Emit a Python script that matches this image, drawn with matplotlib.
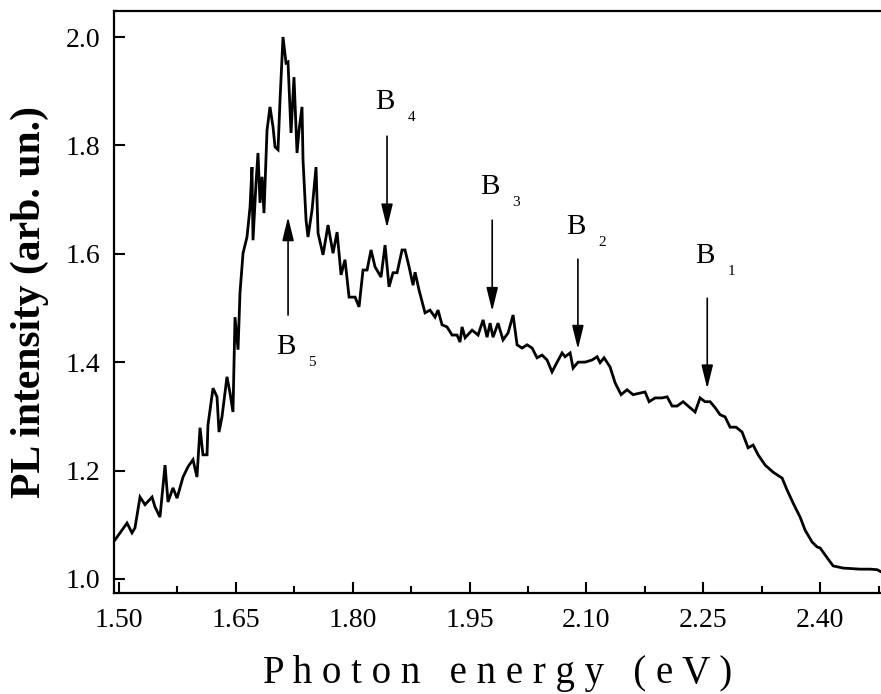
import matplotlib
matplotlib.use("Agg")
import matplotlib.pyplot as plt
from matplotlib.ticker import AutoMinorLocator, FormatStrFormatter

plt.rcParams["font.family"] = ["Liberation Serif", "DejaVu Serif"]

# PL spectrum (photon energy in eV, intensity in arb. units)
energy = [
    1.4949, 1.5103, 1.5167, 1.5205, 1.5270, 1.5334, 1.5424, 1.5462, 1.5526, 1.5591,
    1.5629, 1.5693, 1.5745, 1.5822, 1.5886, 1.5950, 1.6001, 1.6040, 1.6078, 1.6130,
    1.6142, 1.6207, 1.6258, 1.6284, 1.6322, 1.6386, 1.6425, 1.6463, 1.6489, 1.6528,
    1.6553, 1.6592, 1.6643, 1.6682, 1.6707, 1.6720, 1.6759, 1.6784, 1.6810, 1.6836,
    1.6861, 1.6900, 1.6938, 1.6977, 1.7003, 1.7041, 1.7067, 1.7105, 1.7144, 1.7169,
    1.7208, 1.7246, 1.7285, 1.7311, 1.7349, 1.7362, 1.7401, 1.7426, 1.7478, 1.7529,
    1.7555, 1.7619, 1.7683, 1.7747, 1.7799, 1.7850, 1.7901, 1.7953, 1.8030, 1.8081,
    1.8132, 1.8184, 1.8235, 1.8286, 1.8363, 1.8415, 1.8466, 1.8517, 1.8569, 1.8633,
    1.8671, 1.8723, 1.8774, 1.8800, 1.8851, 1.8928, 1.8992, 1.9056, 1.9095, 1.9146,
    1.9210, 1.9275, 1.9339, 1.9377, 1.9403, 1.9442, 1.9532, 1.9609, 1.9673, 1.9724,
    1.9763, 1.9801, 1.9865, 1.9929, 1.9994, 2.0058, 2.0109, 2.0173, 2.0238, 2.0302,
    2.0366, 2.0430, 2.0494, 2.0558, 2.0623, 2.0687, 2.0725, 2.0790, 2.0828, 2.0892,
    2.0982, 2.1072, 2.1136, 2.1175, 2.1226, 2.1303, 2.1367, 2.1444, 2.1521, 2.1598,
    2.1688, 2.1752, 2.1804, 2.1881, 2.1970, 2.2035, 2.2099, 2.2163, 2.2240, 2.2304,
    2.2394, 2.2458, 2.2522, 2.2587, 2.2651, 2.2715, 2.2779, 2.2843, 2.2920, 2.2997,
    2.3074, 2.3139, 2.3203, 2.3293, 2.3395, 2.3511, 2.3575, 2.3652, 2.3742, 2.3806,
    2.3896, 2.3960, 2.3999, 2.4089, 2.4166, 2.4294, 2.4512, 2.4641, 2.4731, 2.4782,
]
intensity = [
    1.072, 1.103, 1.085, 1.094, 1.151, 1.137, 1.151, 1.133, 1.114, 1.210,
    1.142, 1.168, 1.149, 1.188, 1.207, 1.220, 1.188, 1.279, 1.229, 1.229,
    1.284, 1.352, 1.336, 1.271, 1.299, 1.373, 1.343, 1.308, 1.483, 1.423,
    1.528, 1.601, 1.631, 1.686, 1.760, 1.625, 1.731, 1.786, 1.694, 1.742,
    1.675, 1.828, 1.871, 1.834, 1.797, 1.792, 1.884, 2.000, 1.952, 1.954,
    1.823, 1.926, 1.786, 1.828, 1.871, 1.773, 1.662, 1.631, 1.681, 1.760,
    1.638, 1.598, 1.653, 1.601, 1.640, 1.561, 1.589, 1.520, 1.520, 1.502,
    1.570, 1.570, 1.607, 1.576, 1.557, 1.616, 1.539, 1.565, 1.565, 1.607,
    1.607, 1.576, 1.542, 1.566, 1.533, 1.491, 1.496, 1.483, 1.496, 1.469,
    1.465, 1.450, 1.450, 1.437, 1.465, 1.445, 1.459, 1.450, 1.478, 1.446,
    1.472, 1.446, 1.472, 1.441, 1.454, 1.487, 1.432, 1.426, 1.432, 1.426,
    1.408, 1.413, 1.404, 1.382, 1.400, 1.417, 1.410, 1.417, 1.389, 1.400,
    1.400, 1.404, 1.410, 1.399, 1.408, 1.391, 1.362, 1.340, 1.349, 1.340,
    1.343, 1.345, 1.327, 1.334, 1.334, 1.336, 1.319, 1.319, 1.327, 1.319,
    1.308, 1.334, 1.327, 1.327, 1.316, 1.303, 1.299, 1.280, 1.280, 1.271,
    1.242, 1.247, 1.229, 1.210, 1.197, 1.186, 1.164, 1.140, 1.114, 1.090,
    1.068, 1.059, 1.057, 1.039, 1.024, 1.020, 1.018, 1.018, 1.017, 1.013,
]

# band markers: subscript, energy, arrow tail, arrow tip (intensity)
band_names = ["1", "2", "3", "4", "5"]
band_energy = [2.255, 2.089, 1.979, 1.844, 1.717]
arrow_tail = [1.518, 1.590, 1.662, 1.817, 1.487]
arrow_tip = [1.351, 1.424, 1.494, 1.648, 1.668]
label_y = [1.596, 1.649, 1.723, 1.880, 1.428]

x_ticks = [1.50, 1.65, 1.80, 1.95, 2.10, 2.25, 2.40]
y_ticks = [1.0, 1.2, 1.4, 1.6, 1.8, 2.0]

fig = plt.figure(figsize=(8.81, 6.94), dpi=100)
ax = fig.add_axes([114 / 881, 101 / 694, 767 / 881, 582 / 694])

ax.plot(energy, intensity, color="black", lw=2.0, solid_joinstyle="miter")

for name, e, tail, tip, ly in zip(band_names, band_energy, arrow_tail, arrow_tip, label_y):
    ax.annotate(
        "", xy=(e, tip), xytext=(e, tail),
        arrowprops=dict(arrowstyle="-|>,head_length=0.9,head_width=0.22",
                        mutation_scale=16, lw=1.2, color="black",
                        shrinkA=0, shrinkB=0),
    )
    ax.text(e - 0.003, ly, "B", fontsize=21, ha="center", va="center")
    ax.text(e + 0.031, ly - 0.028, name, fontsize=11, ha="center", va="center")

ax.set_xlim(1.4936, 2.478)
ax.set_ylim(0.974, 2.048)
ax.set_xticks(x_ticks)
ax.set_yticks(y_ticks)
ax.xaxis.set_minor_locator(AutoMinorLocator(2))
ax.xaxis.set_major_formatter(FormatStrFormatter("%.2f"))
ax.yaxis.set_major_formatter(FormatStrFormatter("%.1f"))

ax.tick_params(which="major", direction="in", length=8, width=1.5, labelsize=20)
ax.tick_params(axis="x", which="major", pad=11)
ax.tick_params(axis="y", which="major", pad=10)
ax.tick_params(which="minor", direction="in", length=5, width=1.5)
for side in ["left", "bottom", "top"]:
    ax.spines[side].set_linewidth(1.6)
ax.spines["right"].set_visible(False)

ax.set_xlabel("P h o t o n   e n e r g y   ( e V )", fontsize=28, labelpad=16)
ax.set_ylabel("PL intensity (arb. un.)", fontsize=30, fontweight="bold", labelpad=12)

fig.savefig("out.png", dpi=100)
